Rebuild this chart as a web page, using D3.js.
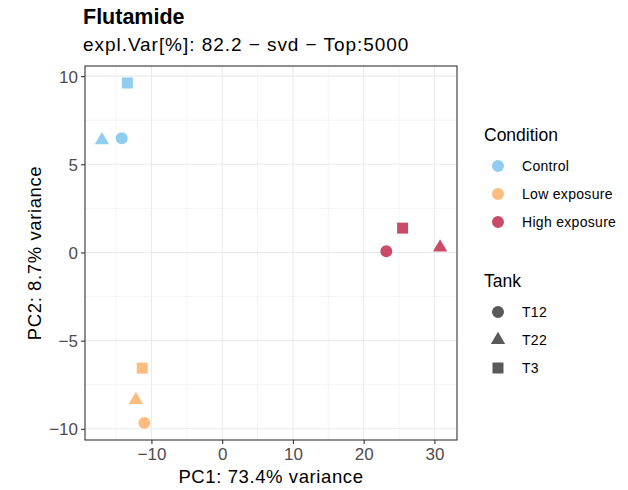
<!DOCTYPE html>
<html>
<head>
<meta charset="utf-8">
<script src="https://cdn.jsdelivr.net/npm/d3@7"></script>
<style>
  html, body { margin: 0; padding: 0; background: #fff; }
  svg { display: block; font-family: "Liberation Sans", Arial, Helvetica, sans-serif; }
</style>
</head>
<body>
<svg id="chart" width="628" height="490"></svg>
<script>
// PCA scores for the nine Flutamide samples
const samples   = ["C_T12", "C_T22", "C_T3", "L_T12", "L_T22", "L_T3", "H_T12", "H_T22", "H_T3"];
const condition = ["Control", "Control", "Control", "Low exposure", "Low exposure", "Low exposure", "High exposure", "High exposure", "High exposure"];
const tank      = ["T12", "T22", "T3", "T12", "T22", "T3", "T12", "T22", "T3"];
const pc1       = [-14.2, -17.0, -13.4, -11.0, -12.2, -11.3, 23.2, 30.8, 25.5];
const pc2       = [6.48, 6.37, 9.61, -9.67, -8.36, -6.56, 0.07, 0.29, 1.38];

const conditionLevels = ["Control", "Low exposure", "High exposure"];
const conditionColors = ["#8ecdf0", "#fdbd80", "#c84b68"];
const tankLevels      = ["T12", "T22", "T3"];
const xTicks = [-10, 0, 10, 20, 30];
const yTicks = [-10, -5, 0, 5, 10];

const svg = d3.select("#chart");
const panel = { left: 85, right: 457, top: 66, bottom: 440 };

// ggplot-style 5% expansion around the data range
function expand(vals) {
  const [lo, hi] = d3.extent(vals);
  const pad = (hi - lo) * 0.05;
  return [lo - pad, hi + pad];
}

const x = d3.scaleLinear().domain(expand(pc1)).range([panel.left, panel.right]);
const y = d3.scaleLinear().domain(expand(pc2)).range([panel.bottom, panel.top]);
const color = d3.scaleOrdinal().domain(conditionLevels).range(conditionColors);
const shapeType = d3.scaleOrdinal().domain(tankLevels).range([d3.symbolCircle, d3.symbolTriangle, d3.symbolSquare]);
const shapeSize = d3.scaleOrdinal().domain(tankLevels).range([113, 88, 121]);

const symbolPath = t => d3.symbol().type(shapeType(t)).size(shapeSize(t))();
const minus = d => d < 0 ? "\u2212" + Math.abs(d) : String(d);

// Titles
svg.append("text").attr("x", 83).attr("y", 24)
  .attr("font-size", 21.5).attr("font-weight", "bold").attr("fill", "#000")
  .text("Flutamide");
svg.append("text").attr("x", 83).attr("y", 51)
  .attr("font-size", 19).attr("letter-spacing", 0.95).attr("fill", "#000")
  .text("expl.Var[%]: 82.2 \u2212 svd \u2212 Top:5000");

// Panel background and grid
const g = svg.append("g");
g.append("rect")
  .attr("x", panel.left).attr("y", panel.top)
  .attr("width", panel.right - panel.left).attr("height", panel.bottom - panel.top)
  .attr("fill", "#fff");

const mid = arr => arr.slice(1).map((v, i) => (v + arr[i]) / 2);
const xMinor = [xTicks[0] - 5].concat(mid(xTicks)).concat([xTicks[xTicks.length - 1] + 5])
  .filter(v => v > x.domain()[0] && v < x.domain()[1]);
const yMinor = mid(yTicks);

g.selectAll(".xminor").data(xMinor).join("line")
  .attr("x1", d => x(d)).attr("x2", d => x(d))
  .attr("y1", panel.top).attr("y2", panel.bottom)
  .attr("stroke", "#ebebeb").attr("stroke-width", 0.55);
g.selectAll(".yminor").data(yMinor).join("line")
  .attr("y1", d => y(d)).attr("y2", d => y(d))
  .attr("x1", panel.left).attr("x2", panel.right)
  .attr("stroke", "#ebebeb").attr("stroke-width", 0.55);
g.selectAll(".xmajor").data(xTicks).join("line")
  .attr("x1", d => x(d)).attr("x2", d => x(d))
  .attr("y1", panel.top).attr("y2", panel.bottom)
  .attr("stroke", "#ebebeb").attr("stroke-width", 1.1);
g.selectAll(".ymajor").data(yTicks).join("line")
  .attr("y1", d => y(d)).attr("y2", d => y(d))
  .attr("x1", panel.left).attr("x2", panel.right)
  .attr("stroke", "#ebebeb").attr("stroke-width", 1.1);

// Points
const pts = d3.range(samples.length);
g.selectAll(".pt").data(pts).join("path")
  .attr("transform", i => `translate(${x(pc1[i])},${y(pc2[i])})`)
  .attr("d", i => symbolPath(tank[i]))
  .attr("fill", i => color(condition[i]));

// Panel border
g.append("rect")
  .attr("x", panel.left).attr("y", panel.top)
  .attr("width", panel.right - panel.left).attr("height", panel.bottom - panel.top)
  .attr("fill", "none").attr("stroke", "#333").attr("stroke-width", 1.1);

// Axes
const xAxis = svg.append("g")
  .attr("transform", `translate(0,${panel.bottom})`)
  .call(d3.axisBottom(x).tickValues(xTicks).tickSize(4).tickPadding(3).tickFormat(minus));
const yAxis = svg.append("g")
  .attr("transform", `translate(${panel.left},0)`)
  .call(d3.axisLeft(y).tickValues(yTicks).tickSize(4).tickPadding(3).tickFormat(minus));
[xAxis, yAxis].forEach(a => {
  a.select(".domain").remove();
  a.selectAll(".tick line").attr("stroke", "#333").attr("stroke-width", 1.1);
  a.selectAll(".tick text").attr("fill", "#4d4d4d").attr("font-size", 17)
    .attr("font-family", "Liberation Sans, Arial, sans-serif");
});
xAxis.selectAll(".tick text").attr("dy", "0.78em");
yAxis.selectAll(".tick text").attr("dy", "0.36em");

svg.append("text")
  .attr("x", (panel.left + panel.right) / 2).attr("y", 483)
  .attr("text-anchor", "middle").attr("font-size", 18.5).attr("letter-spacing", 0.6).attr("fill", "#000")
  .text("PC1: 73.4% variance");
svg.append("text")
  .attr("transform", `translate(41,${(panel.top + panel.bottom) / 2}) rotate(-90)`)
  .attr("text-anchor", "middle").attr("font-size", 18.5).attr("letter-spacing", 0.6).attr("fill", "#000")
  .text("PC2: 8.7% variance");

// Legends
const legendX = 484, keyX = 498, labelX = 522;
svg.append("text").attr("x", legendX).attr("y", 141)
  .attr("font-size", 17.5).attr("fill", "#000").text("Condition");
const condRows = svg.selectAll(".cond").data(conditionLevels).join("g")
  .attr("transform", (d, i) => `translate(0,${166 + i * 28})`);
condRows.append("path")
  .attr("transform", `translate(${keyX},0)`)
  .attr("d", d3.symbol().type(d3.symbolCircle).size(113)())
  .attr("fill", d => color(d));
condRows.append("text").attr("x", labelX).attr("y", 5)
  .attr("font-size", 14).attr("letter-spacing", 0.3).attr("fill", "#000").text(d => d);

svg.append("text").attr("x", legendX).attr("y", 287)
  .attr("font-size", 17.5).attr("fill", "#000").text("Tank");
const tankRows = svg.selectAll(".tank").data(tankLevels).join("g")
  .attr("transform", (d, i) => `translate(0,${312 + i * 28})`);
tankRows.append("path")
  .attr("transform", `translate(${keyX},0)`)
  .attr("d", d => symbolPath(d))
  .attr("fill", "#595959");
tankRows.append("text").attr("x", labelX).attr("y", 5)
  .attr("font-size", 14).attr("letter-spacing", 0.3).attr("fill", "#000").text(d => d);
</script>
</body>
</html>
